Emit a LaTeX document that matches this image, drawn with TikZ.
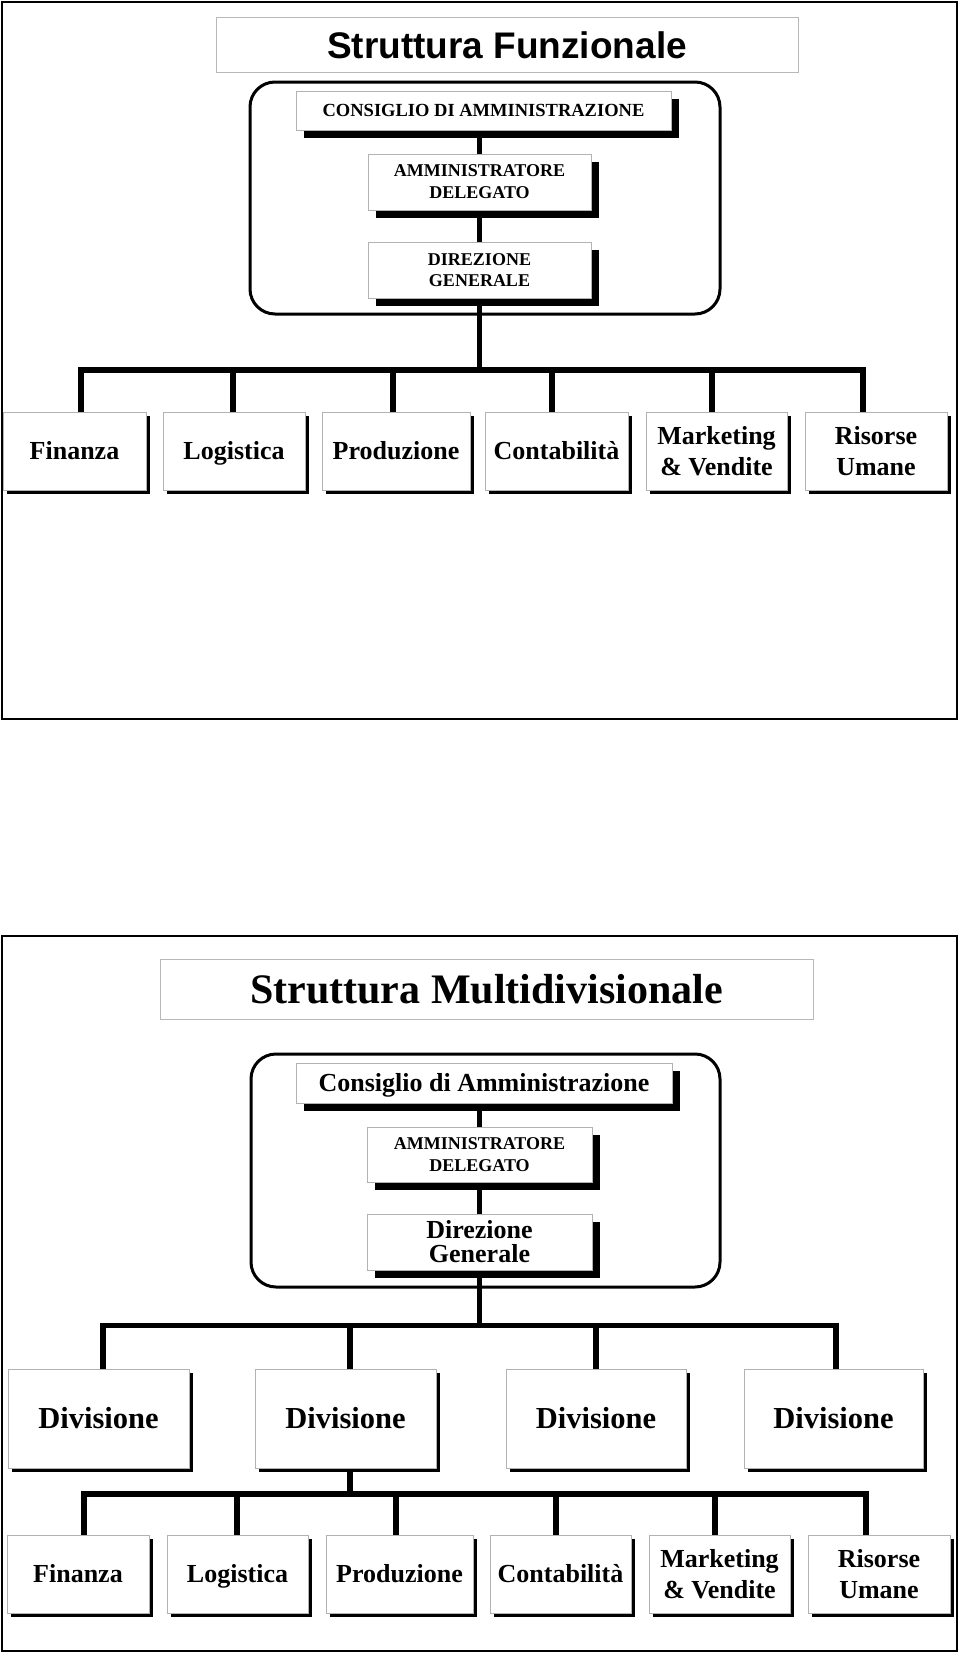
\documentclass[tikz,border=0pt]{standalone}
\usepackage{fontspec}
\setmainfont{Liberation Serif}
\newfontfamily\arialfont{Liberation Sans}
\usetikzlibrary{shadows}
\begin{document}
\begin{tikzpicture}[x=1pt,y=-1pt,
  panel/.style={draw=black,line width=2.5pt,inner sep=0pt},
  titlebox/.style={draw=black!28,line width=1pt,fill=white,inner sep=0pt,align=center},
  grp/.style={draw=black,line width=3pt,rounded corners=25pt,inner sep=0pt},
  bx/.style={draw=black!30,line width=1pt,fill=white,inner sep=0pt,align=center},
  shbig/.style={drop shadow={shadow xshift=8pt,shadow yshift=-8pt,opacity=1,fill=black}},
  shsmall/.style={drop shadow={shadow xshift=4pt,shadow yshift=-4pt,opacity=1,fill=black}},
  fcaps/.style={font=\bfseries\fontsize{18}{22}\selectfont},
  fcda/.style={font=\bfseries\fontsize{18.5}{22}\selectfont,text height=12.2pt,text depth=0pt},
  f26/.style={font=\bfseries\fontsize{26}{31}\selectfont},
  one26/.style={f26,text height=17.5pt,text depth=0pt},
  fdiv/.style={font=\bfseries\fontsize{30.5}{36}\selectfont,text height=20.5pt,text depth=0pt},
  conn/.style={draw=black,line width=5.5pt,line join=miter}
]
\useasboundingbox (0,0) rectangle (960,1654);

% ================= Panel 1 =================
\node[panel,minimum width=955pt,minimum height=717pt] (panel1) at (479.5,360.5) {};
\node[titlebox,minimum width=582pt,minimum height=55pt,
      font=\arialfont\bfseries\fontsize{37}{44}\selectfont] (title1) at (507,45.5) {Struttura Funzionale};
\node[grp,minimum width=470pt,minimum height=232pt] (grp1) at (485,198) {};

\node[bx,shbig,fcda,minimum width=375pt,minimum height=39pt] (cda1) at (483.5,110.5) {CONSIGLIO DI AMMINISTRAZIONE};
\node[bx,shbig,font=\bfseries\fontsize{18}{22}\selectfont,minimum width=223pt,minimum height=56pt] (ad1) at (479.5,182) {AMMINISTRATORE\\DELEGATO};
\node[bx,shbig,font=\bfseries\fontsize{18}{21}\selectfont,minimum width=223pt,minimum height=56pt] (dg1) at (479.5,270) {DIREZIONE\\GENERALE};

\node[bx,shsmall,one26,minimum width=143pt,minimum height=78pt] (fin1) at (74.5,451) {Finanza};
\node[bx,shsmall,one26,minimum width=142pt,minimum height=78pt] (log1) at (234,451) {Logistica};
\node[bx,shsmall,one26,minimum width=148pt,minimum height=78pt] (pro1) at (396,451) {Produzione};
\node[bx,shsmall,one26,minimum width=143pt,minimum height=78pt] (con1) at (556.5,451) {Contabilità};
\node[bx,shsmall,f26,minimum width=141pt,minimum height=78pt] (mkt1) at (716.5,451) {Marketing\\\& Vendite};
\node[bx,shsmall,f26,minimum width=142pt,minimum height=78pt] (ris1) at (876,451) {Risorse\\Umane};

\draw[conn] (ad1.north) -- (ad1.north |- cda1.south);
\draw[conn] (dg1.north) -- (ad1.south);
\coordinate (j1) at (479.5,370);
\draw[conn] (dg1.south) -- (j1);
\draw[conn] (j1) -| ([xshift=6.5pt]fin1.north);
\draw[conn] (j1) -| ([xshift=-1pt]log1.north);
\draw[conn] (j1) -| ([xshift=-3pt]pro1.north);
\draw[conn] (j1) -| ([xshift=-4.5pt]con1.north);
\draw[conn] (j1) -| ([xshift=-4.5pt]mkt1.north);
\draw[conn] (j1) -| ([xshift=-13pt]ris1.north);

% ================= Panel 2 =================
\node[panel,minimum width=955pt,minimum height=715pt] (panel2) at (479.5,1293.5) {};
\node[titlebox,minimum width=653pt,minimum height=60pt,
      font=\bfseries\fontsize{42}{50}\selectfont] (title2) at (486.5,989) {Struttura Multidivisionale};
\node[grp,minimum width=469pt,minimum height=233pt] (grp2) at (485.5,1170.5) {};

\node[bx,shbig,f26,text height=17.5pt,text depth=0pt,minimum width=376pt,minimum height=40pt] (cda2) at (484,1083) {Consiglio di Amministrazione};
\node[bx,shbig,fcaps,minimum width=225pt,minimum height=55pt] (ad2) at (479.5,1154.5) {AMMINISTRATORE\\DELEGATO};
\node[bx,shbig,font=\bfseries\fontsize{26}{24}\selectfont,minimum width=225pt,minimum height=56pt] (dg2) at (479.5,1242) {Direzione\\Generale};

\node[bx,shsmall,fdiv,minimum width=181pt,minimum height=99pt] (d1) at (98.5,1418.5) {Divisione};
\node[bx,shsmall,fdiv,minimum width=181pt,minimum height=99pt] (d2) at (345.5,1418.5) {Divisione};
\node[bx,shsmall,fdiv,minimum width=180pt,minimum height=99pt] (d3) at (596,1418.5) {Divisione};
\node[bx,shsmall,fdiv,minimum width=179pt,minimum height=99pt] (d4) at (833.5,1418.5) {Divisione};

\node[bx,shsmall,one26,minimum width=142pt,minimum height=78pt] (fin2) at (78,1574) {Finanza};
\node[bx,shsmall,one26,minimum width=141pt,minimum height=78pt] (log2) at (237.5,1574) {Logistica};
\node[bx,shsmall,one26,minimum width=147pt,minimum height=78pt] (pro2) at (399.5,1574) {Produzione};
\node[bx,shsmall,one26,minimum width=141pt,minimum height=78pt] (con2) at (560.5,1574) {Contabilità};
\node[bx,shsmall,f26,minimum width=141pt,minimum height=78pt] (mkt2) at (719.5,1574) {Marketing\\\& Vendite};
\node[bx,shsmall,f26,minimum width=142pt,minimum height=78pt] (ris2) at (879,1574) {Risorse\\Umane};

\draw[conn] (ad2.north) -- (ad2.north |- cda2.south);
\draw[conn] (dg2.north) -- (ad2.south);
\coordinate (j2) at (479.5,1325.5);
\draw[conn] (dg2.south) -- (j2);
\draw[conn] (j2) -| ([xshift=4.5pt]d1.north);
\draw[conn] (j2) -| ([xshift=4.5pt]d2.north);
\draw[conn] (j2) -| (d3.north);
\draw[conn] (j2) -| ([xshift=2.5pt]d4.north);

\coordinate (j3) at (350,1494);
\draw[conn] ([xshift=4.5pt]d2.south) -- (j3);
\draw[conn] (j3) -| ([xshift=6pt]fin2.north);
\draw[conn] (j3) -| ([xshift=-0.5pt]log2.north);
\draw[conn] (j3) -| ([xshift=-3.5pt]pro2.north);
\draw[conn] (j3) -| ([xshift=-4.5pt]con2.north);
\draw[conn] (j3) -| ([xshift=-4.5pt]mkt2.north);
\draw[conn] (j3) -| ([xshift=-13pt]ris2.north);
\end{tikzpicture}
\end{document}
